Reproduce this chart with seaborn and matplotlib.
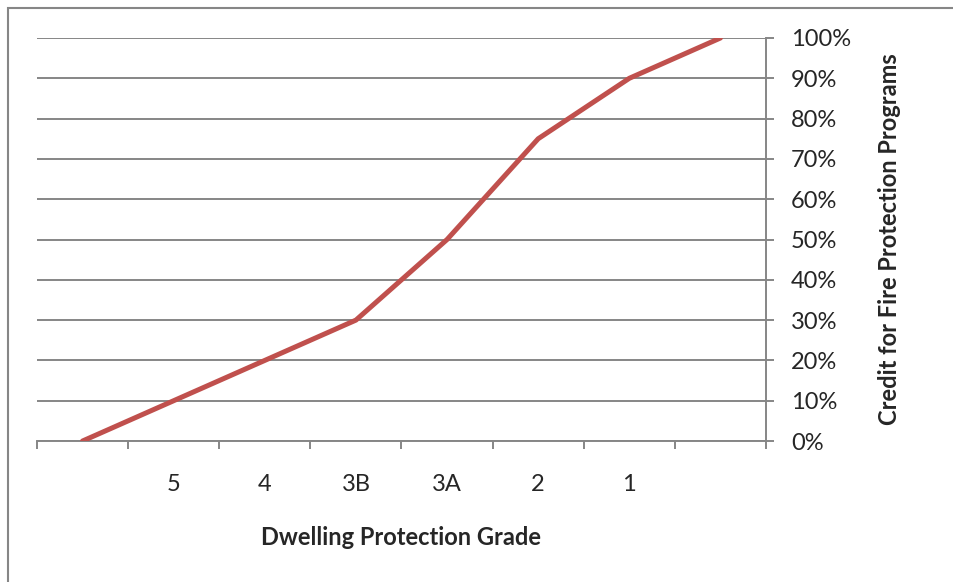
import matplotlib
matplotlib.use("Agg")
import matplotlib.pyplot as plt
import matplotlib.patches as patches
from matplotlib.ticker import FixedLocator, PercentFormatter
import pandas as pd
import seaborn as sns

grades = ["", "5", "4", "3B", "3A", "2", "1", ""]
credit = [0, 10, 20, 30, 50, 75, 90, 100]
x_title = "Dwelling Protection Grade"
y_title = "Credit for Fire Protection Programs"

LINE = "#C0504D"
GRID = "#868686"
FS = 17

sns.set_style("white")
plt.rcParams["font.family"] = ["Lato", "DejaVu Sans"]

df = pd.DataFrame({"pos": range(len(grades)), "credit": credit})

fig = plt.figure(figsize=(9.54, 5.82), dpi=100)
ax = fig.add_axes([37 / 954, 1 - 441 / 582, (766 - 37) / 954, (441 - 38) / 582])

sns.lineplot(data=df, x="pos", y="credit", ax=ax, color=LINE, linewidth=3.6,
             solid_capstyle="round", solid_joinstyle="round", zorder=3)

ax.set_xlim(-0.5, len(grades) - 0.5)
ax.set_ylim(0, 100)

# y axis on the right
ax.yaxis.tick_right()
ax.yaxis.set_label_position("right")
ax.set_yticks(range(0, 101, 10))
ax.yaxis.set_major_formatter(PercentFormatter(decimals=0))
ax.tick_params(axis="y", direction="out", length=6, width=1.4, color=GRID,
               labelsize=FS, pad=12, left=False, right=True)
ax.grid(axis="y", color=GRID, linewidth=1.4)

# category boundaries as tick marks, labels at centres
ax.set_xticks(range(len(grades)))
ax.set_xticklabels(grades)
ax.xaxis.set_minor_locator(FixedLocator([i - 0.5 for i in range(len(grades) + 1)]))
ax.tick_params(axis="x", which="major", length=0, labelsize=FS, pad=24)
ax.tick_params(axis="x", which="minor", direction="out", length=6, width=1.4,
               color=GRID, bottom=True)

for side in ["top", "left"]:
    ax.spines[side].set_visible(False)
for side in ["bottom", "right"]:
    ax.spines[side].set_color(GRID)
    ax.spines[side].set_linewidth(1.4)

ax.set_xlabel(x_title, fontsize=FS, fontweight="bold", labelpad=22)
ax.set_ylabel(y_title, fontsize=FS, fontweight="bold", labelpad=19)

# outer chart frame
fig.patches.append(patches.Rectangle((8 / 954, -0.1), 1.2, 1 - 8 / 582 + 0.1,
                                     transform=fig.transFigure, fill=False,
                                     edgecolor=GRID, linewidth=1.5))

fig.savefig("out.png", dpi=100)
